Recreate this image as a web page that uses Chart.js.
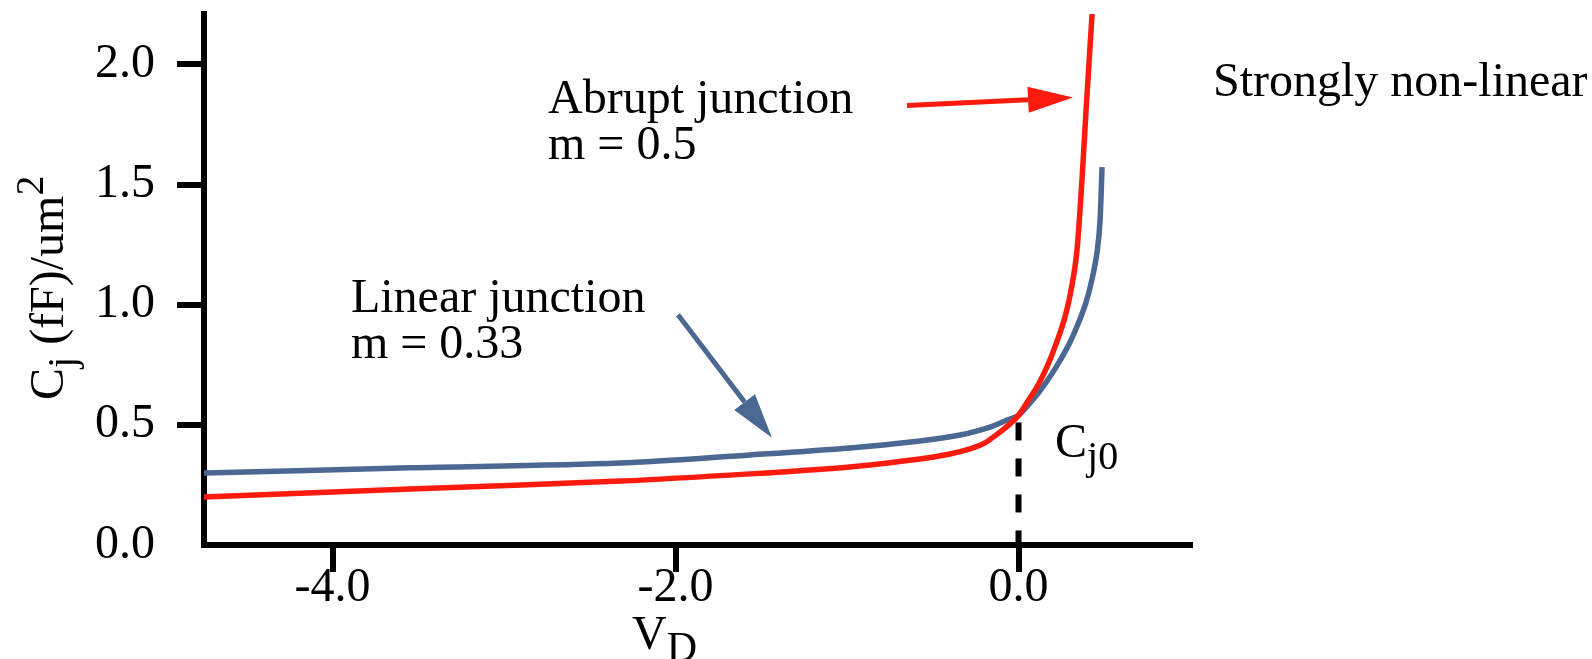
<!DOCTYPE html>
<html>
<head>
<meta charset="utf-8">
<script src="https://cdn.jsdelivr.net/npm/chart.js@4/dist/chart.umd.min.js"></script>
<style>
  html, body { margin: 0; padding: 0; background: #fff; }
  canvas { display: block; }
</style>
</head>
<body>
<canvas id="cj" width="1592" height="659"></canvas>
<script>
// Junction capacitance per unit area versus diode voltage V_D
const abruptV = [-4.75, -3.549, -2.324, -1.566, -0.983, -0.575, -0.400, -0.283, -0.196, -0.108, -0.050, 0,
                 0.055, 0.114, 0.166, 0.219, 0.271, 0.312, 0.341, 0.370, 0.394, 0.429];
const abruptC = [0.200, 0.233, 0.266, 0.296, 0.325, 0.358, 0.379, 0.400, 0.425, 0.470, 0.504, 0.54,
                 0.599, 0.666, 0.741, 0.837, 0.949, 1.082, 1.228, 1.519, 1.811, 2.21];

const linearV = [-4.75, -3.549, -2.324, -1.566, -0.983, -0.575, -0.341, -0.166, -0.067, 0,
                 0.067, 0.125, 0.213, 0.289, 0.347, 0.394, 0.429, 0.458, 0.475, 0.487];
const linearC = [0.300, 0.321, 0.341, 0.375, 0.404, 0.433, 0.458, 0.491, 0.520, 0.54,
                 0.591, 0.641, 0.733, 0.828, 0.920, 1.011, 1.107, 1.219, 1.344, 1.573];

// Dashed marker dropping from Cj0 to the axis
const cj0LineV = [0, 0];
const cj0LineC = [0.51, 0];

const xTicks = [-4, -2, 0];
const yTicks = [0, 0.5, 1.0, 1.5, 2.0];
const xRange = [-4.75, 1.0];
const yRange = [0, 2.21];

const RED = '#ff1a0e';
const BLUE = '#4a6891';
const SERIF = '"Liberation Serif", "Times New Roman", serif';

const toPoints = (xs, ys) => xs.map((x, i) => ({ x, y: ys[i] }));

// Text annotations (anchored in data units)
const notes = [
  { lines: ['Abrupt junction', 'm = 0.5'], v: -2.744, c: 1.80 },
  { lines: ['Linear junction', 'm = 0.33'], v: -3.893, c: 0.971 },
  { lines: ['Strongly non-linear'], v: 1.134, c: 1.867 }
];
const arrows = [
  { from: [-0.650, 1.829], to: [0.318, 1.8625], color: RED },
  { from: [-1.986, 0.958], to: [-1.438, 0.446], color: BLUE }
];
const cj0Label = { v: 0.213, c: 0.367 };

function drawRich(ctx, x, y, parts) {
  let cx = x;
  for (const p of parts) {
    ctx.font = p.size + 'px ' + SERIF;
    ctx.fillText(p.t, cx, y + (p.dy || 0));
    cx += ctx.measureText(p.t).width;
  }
}

function drawArrow(ctx, x1, y1, x2, y2, color) {
  const ang = Math.atan2(y2 - y1, x2 - x1);
  const headLen = 45, headHalf = 13;
  const bx = x2 - headLen * Math.cos(ang), by = y2 - headLen * Math.sin(ang);
  ctx.save();
  ctx.strokeStyle = color;
  ctx.fillStyle = color;
  ctx.lineWidth = 5;
  ctx.lineCap = 'butt';
  ctx.beginPath();
  ctx.moveTo(x1, y1);
  ctx.lineTo(bx, by);
  ctx.stroke();
  ctx.beginPath();
  ctx.moveTo(x2, y2);
  ctx.lineTo(bx + headHalf * Math.sin(ang), by - headHalf * Math.cos(ang));
  ctx.lineTo(bx - headHalf * Math.sin(ang), by + headHalf * Math.cos(ang));
  ctx.closePath();
  ctx.fill();
  ctx.restore();
}

const annotate = {
  id: 'annotate',
  afterDraw(chart) {
    const { ctx, scales: { x, y } } = chart;
    ctx.save();
    ctx.fillStyle = '#000';
    ctx.textAlign = 'left';
    ctx.textBaseline = 'alphabetic';

    notes.forEach(n => {
      const px = x.getPixelForValue(n.v);
      const py = y.getPixelForValue(n.c);
      ctx.font = '48px ' + SERIF;
      n.lines.forEach((t, i) => ctx.fillText(t, px, py + i * 46));
    });

    drawRich(ctx, x.getPixelForValue(cj0Label.v), y.getPixelForValue(cj0Label.c), [
      { t: 'C', size: 48 },
      { t: 'j0', size: 40, dy: 12 }
    ]);

    arrows.forEach(a => drawArrow(ctx,
      x.getPixelForValue(a.from[0]), y.getPixelForValue(a.from[1]),
      x.getPixelForValue(a.to[0]), y.getPixelForValue(a.to[1]), a.color));

    // x axis title: V_D
    drawRich(ctx, 632, 649, [
      { t: 'V', size: 48 },
      { t: 'D', size: 42, dy: 12 }
    ]);

    // y axis title: C_j (fF)/um^2, rotated
    ctx.save();
    ctx.translate(63, 400);
    ctx.rotate(-Math.PI / 2);
    drawRich(ctx, 0, 0, [
      { t: 'C', size: 48 },
      { t: 'j', size: 40, dy: 12 },
      { t: ' (fF)/um', size: 48 },
      { t: '2', size: 40, dy: -20 }
    ]);
    ctx.restore();
    ctx.restore();
  }
};

const axisFont = { family: SERIF, size: 48 };

new Chart(document.getElementById('cj'), {
  type: 'scatter',
  data: {
    datasets: [
      {
        label: 'Abrupt junction',
        data: toPoints(abruptV, abruptC),
        showLine: true,
        borderColor: RED,
        borderWidth: 5.5,
        pointRadius: 0,
        tension: 0.3
      },
      {
        label: 'Linear junction',
        data: toPoints(linearV, linearC),
        showLine: true,
        borderColor: BLUE,
        borderWidth: 5.5,
        pointRadius: 0,
        tension: 0.3
      },
      {
        label: 'Cj0',
        data: toPoints(cj0LineV, cj0LineC),
        showLine: true,
        borderColor: '#000',
        borderWidth: 6,
        borderDash: [18, 18],
        pointRadius: 0
      }
    ]
  },
  options: {
    responsive: false,
    animation: false,
    devicePixelRatio: 1,
    layout: { padding: { left: 0, right: 402, top: 14, bottom: 0 } },
    plugins: {
      legend: { display: false },
      title: { display: false },
      tooltip: { enabled: false }
    },
    scales: {
      x: {
        type: 'linear',
        min: xRange[0],
        max: xRange[1],
        afterBuildTicks: s => { s.ticks = xTicks.map(v => ({ value: v })); },
        afterFit: s => { s.height = 114; s.paddingLeft = 0; s.paddingRight = 0; },
        grid: {
          drawOnChartArea: false,
          drawTicks: true,
          tickLength: 27,
          tickWidth: 6,
          tickColor: '#000',
          color: '#000',
          lineWidth: 6
        },
        border: { display: true, width: 6, color: '#000' },
        ticks: {
          color: '#000',
          font: axisFont,
          padding: -12,
          maxRotation: 0,
          autoSkip: false,
          callback: v => Number(v).toFixed(1)
        }
      },
      y: {
        type: 'linear',
        min: yRange[0],
        max: yRange[1],
        afterBuildTicks: s => { s.ticks = yTicks.map(v => ({ value: v })); },
        afterFit: s => { s.width = 204; s.paddingTop = 0; s.paddingBottom = 0; },
        grid: {
          drawOnChartArea: false,
          drawTicks: true,
          tickLength: 27,
          tickWidth: 6,
          tickColor: c => (c.tick && c.tick.value === 0 ? 'rgba(0,0,0,0)' : '#000'),
          color: '#000',
          lineWidth: 6
        },
        border: { display: true, width: 6, color: '#000' },
        ticks: {
          color: '#000',
          font: axisFont,
          padding: 22,
          autoSkip: false,
          callback: v => Number(v).toFixed(1)
        }
      }
    }
  },
  plugins: [annotate]
});
</script>
</body>
</html>
